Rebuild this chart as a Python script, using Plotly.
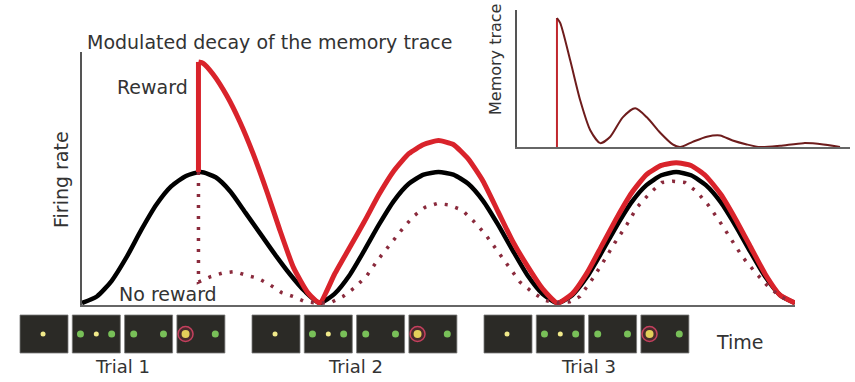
import plotly.graph_objects as go

W, H = 855, 382

# ---- data ----
# main panel: time in trials (troughs at 0, 1, 2, 3), firing rate in units of the black peak
t = [i / 16 for i in range(49)]
black = [0, .05, .17, .35, .56, .75, .89, .97, 1.0,
         .96, .85, .69, .53, .37, .22, .09, 0,
         .07, .21, .40, .60, .78, .91, .98, 1.0,
         .98, .91, .78, .60, .40, .21, .07, 0,
         .06, .20, .39, .59, .77, .90, .975, 1.0,
         .975, .90, .77, .59, .39, .20, .06, 0]

reward_jump_t = [0.49, 0.49]
reward_jump_y = [1.0, 1.84]
reward_t = [0.49, 0.51, 0.55, 0.61, 0.665, 0.72, 0.78, 0.83, 0.89, 0.95, 1.0] + t[17:]
reward_y = [1.84, 1.83, 1.75, 1.58, 1.38, 1.14, 0.84, 0.57, 0.27, 0.08, 0.0,
            .22, .42, .62, .83, 1.01, 1.14, 1.21, 1.24, 1.21, 1.10, .93, .70, .47, .28, .11, 0,
            .07, .23, .44, .65, .84, .98, 1.05, 1.07, 1.05, .97, .83, .64, .43, .22, .06, 0]

noreward_t = [0.49, 0.49, .539, .593, .644, .694, .74, .79, .84, .888, .938, .99,
              1.043, 1.098, 1.149, 1.199, 1.245, 1.296, 1.346, 1.393, 1.443, 1.494,
              1.54, 1.599, 1.645, 1.695, 1.746, 1.792, 1.843, 1.897, 1.948, 2.0,
              2.053, 2.095, 2.146, 2.192, 2.242, 2.293, 2.335, 2.39, 2.44, 2.486,
              2.537, 2.587, 2.634, 2.684, 2.734, 2.78, 2.83, 2.88, 2.937, 2.987]
noreward_y = [1.0, 0.16, .20, .23, .24, .21, .19, .14, .08, .05, .01, 0.0,
              0.0, .05, .12, .21, .33, .45, .56, .66, .73, .76,
              .75, .71, .63, .53, .40, .28, .16, .08, .02, 0.0,
              .01, .05, .18, .31, .46, .60, .73, .84, .92, .93,
              .92, .85, .75, .62, .48, .35, .24, .14, .05, .01]

# inset: memory trace
trace_spike_t = [0.48, 0.48]
trace_spike_y = [0.0, 1.0]
trace_t = [0.48, 0.52, 0.64, 0.76, 0.88, 1.00, 1.12, 1.27, 1.42, 1.56, 1.72, 1.87,
           1.96, 2.11, 2.28, 2.44, 2.59, 2.76, 2.92, 3.16, 3.44, 3.68, 3.88]
trace_y = [1.0, 0.96, 0.67, 0.36, 0.13, 0.03, 0.08, 0.23, 0.30, 0.23, 0.11, 0.02,
           0.0, 0.04, 0.08, 0.09, 0.05, 0.02, 0.0, 0.01, 0.03, 0.02, 0.0]

trials = ["Trial 1", "Trial 2", "Trial 3"]
# what is shown in each of the 4 frames of a trial (relative x inside frame, kind)
frame_dots = [
    [(0.48, "fix")],
    [(0.17, "target"), (0.50, "fix"), (0.82, "target")],
    [(0.19, "target"), (0.81, "target")],
    [(0.18, "chosen"), (0.80, "target")],
]

# ---- layout helpers (pixels) ----
def px(x, y):
    return x / W, 1 - y / H

FONT = "DejaVu Sans"
TXT = "#333333"
RED = "#d9232b"
DOT = "#8a2a3c"

fig = go.Figure()

fig.add_trace(go.Scatter(x=t, y=black, mode="lines", line=dict(color="black", width=4.5, shape="spline", smoothing=0.6),
                         xaxis="x", yaxis="y", hoverinfo="skip"))
fig.add_trace(go.Scatter(x=reward_jump_t, y=reward_jump_y, mode="lines", line=dict(color=RED, width=5),
                         xaxis="x", yaxis="y", hoverinfo="skip"))
fig.add_trace(go.Scatter(x=reward_t, y=reward_y, mode="lines", line=dict(color=RED, width=5, shape="spline", smoothing=0.5),
                         xaxis="x", yaxis="y", hoverinfo="skip"))
fig.add_trace(go.Scatter(x=noreward_t, y=noreward_y, mode="lines", line=dict(color=DOT, width=3.5, dash="3px,8px"),
                         xaxis="x", yaxis="y", hoverinfo="skip"))

fig.add_trace(go.Scatter(x=trace_spike_t, y=trace_spike_y, mode="lines", line=dict(color="#c0272d", width=2),
                         xaxis="x2", yaxis="y2", hoverinfo="skip"))
fig.add_trace(go.Scatter(x=trace_t, y=trace_y, mode="lines", line=dict(color="#6e1c1c", width=2, shape="spline", smoothing=0.7),
                         xaxis="x2", yaxis="y2", hoverinfo="skip"))

# ---- stimulus frames ----
trial_x0 = [20, 252, 484]
fw, fh, pitch, fy0 = 48, 38, 52.3, 315
shapes = []
dots = {"fix": ([], []), "target": ([], []), "chosen": ([], [])}
for k, name in enumerate(trials):
    for j, content in enumerate(frame_dots):
        x0 = trial_x0[k] + j * pitch
        shapes.append(dict(type="rect", xref="x3", yref="y3", x0=x0, x1=x0 + fw, y0=fy0, y1=fy0 + fh,
                           fillcolor="#2b2a26", line=dict(color="#7a7a78", width=0.8), layer="below"))
        for rel, kind in content:
            dots[kind][0].append(x0 + rel * fw)
            dots[kind][1].append(fy0 + fh / 2)

fig.add_trace(go.Scatter(x=dots["chosen"][0], y=dots["chosen"][1], mode="markers",
                         marker=dict(size=15, color="#4a2a2c", line=dict(color="#c4405e", width=1.5)),
                         xaxis="x3", yaxis="y3", hoverinfo="skip"))
fig.add_trace(go.Scatter(x=dots["chosen"][0], y=dots["chosen"][1], mode="markers",
                         marker=dict(size=8, color="#e3cf5a"), xaxis="x3", yaxis="y3", hoverinfo="skip"))
fig.add_trace(go.Scatter(x=dots["target"][0], y=dots["target"][1], mode="markers",
                         marker=dict(size=7, color="#78c058"), xaxis="x3", yaxis="y3", hoverinfo="skip"))
fig.add_trace(go.Scatter(x=dots["fix"][0], y=dots["fix"][1], mode="markers",
                         marker=dict(size=5, color="#f1ea8a"), xaxis="x3", yaxis="y3", hoverinfo="skip"))

# ---- text ----
def label(text, x, y, size, angle=0):
    xp, yp = px(x, y)
    return dict(text=text, x=xp, y=yp, xref="paper", yref="paper", showarrow=False, textangle=angle,
                xanchor="center", yanchor="middle", font=dict(family=FONT, size=size, color=TXT))

annotations = [
    label("Modulated decay of the memory trace", 269, 42, 19),
    label("Reward", 152, 87, 19),
    label("No reward", 168, 294, 19),
    label("Firing rate", 61, 180, 19, -90),
    label("Memory trace", 495, 60, 16, -90),
    label("Time", 740, 342, 19),
]
for name, cx in zip(trials, [122, 355, 588]):
    annotations.append(label(name, cx, 366, 18))

ax_common = dict(showgrid=False, zeroline=False, showticklabels=False, ticks="")
fig.update_layout(
    width=W, height=H, autosize=False,
    margin=dict(l=0, r=0, t=0, b=0),
    paper_bgcolor="white", plot_bgcolor="rgba(0,0,0,0)",
    showlegend=False,
    xaxis=dict(domain=[82 / W, 795 / W], range=[0, 3], showline=True, linecolor="#666666", linewidth=2,
               anchor="y", **ax_common),
    yaxis=dict(domain=[1 - 305 / H, 1 - 52 / H], range=[-0.015, 1.916], showline=True, linecolor="#555555",
               linewidth=1.5, anchor="x", **ax_common),
    xaxis2=dict(domain=[517 / W, 850 / W], range=[0, 4], showline=True, linecolor="#666666", linewidth=2,
                anchor="y2", **ax_common),
    yaxis2=dict(domain=[1 - 147 / H, 1 - 10 / H], range=[0, 1.062], showline=True, linecolor="#555555",
                linewidth=1.5, anchor="x2", **ax_common),
    xaxis3=dict(domain=[0, 1], range=[0, W], visible=False, anchor="y3"),
    yaxis3=dict(domain=[0, 1], range=[H, 0], visible=False, anchor="x3"),
    shapes=shapes,
    annotations=annotations,
)

fig.write_html("out.html", config={"displayModeBar": False},
               post_script="document.body.style.margin='0';")
